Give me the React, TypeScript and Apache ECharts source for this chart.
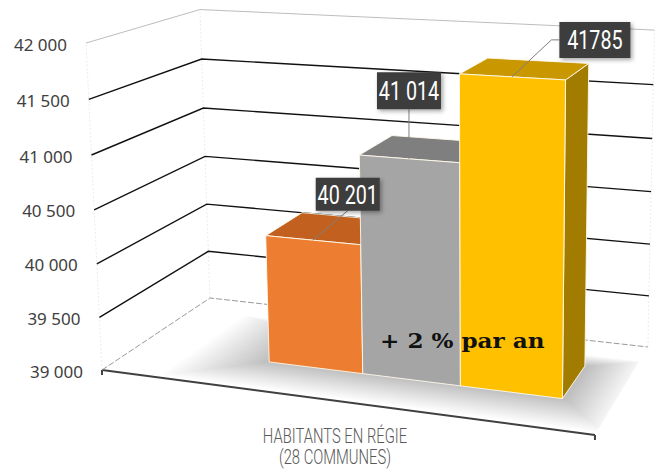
import React, { useEffect, useRef } from "react";
import * as echarts from "echarts";

// ---------- data ----------
const seriesNames = ["Série 1", "Série 2", "Série 3"];
const values = [40201, 41014, 41785];
const valueLabels = ["40 201", "41 014", "41785"];
const yTicks = [39000, 39500, 40000, 40500, 41000, 41500, 42000];
const yTickLabels = ["39 000", "39 500", "40 000", "40 500", "41 000", "41 500", "42 000"];
const axisTitleLines = ["HABITANTS EN RÉGIE", "(28 COMMUNES)"];
const noteText = "+ 2 % par an";

// ---------- layout / style ----------
const W = 658;
const H = 470;

// perspective camera: (X 0 left wall -> 1 right wall, Y 0 floor -> 1 top, Z 0 front -> 1 back wall)
const CAM = [
  [430.6, -19.4, 137.0, 102],
  [19.4, -328.7, -30.8, 370],
  [-0.1048, -0.04, 0.1383, 1],
];
function proj(X: number, Y: number, Z: number): number[] {
  const w = CAM[2][0] * X + CAM[2][1] * Y + CAM[2][2] * Z + CAM[2][3];
  return [
    (CAM[0][0] * X + CAM[0][1] * Y + CAM[0][2] * Z + CAM[0][3]) / w,
    (CAM[1][0] * X + CAM[1][1] * Y + CAM[1][2] * Z + CAM[1][3]) / w,
  ];
}
const BAR_X0 = 0.297;
const BAR_X1 = 0.903;
const BAR_Z0 = 0.31;
const BAR_Z1 = 0.69;

const FRONT = ["#ED7D31", "#A5A5A5", "#FFC000"];
const TOP = ["#C2601F", "#7F7F7F", "#C99700"];
const SIDE = ["#A24D12", "#6E6E6E", "#A17C00"];
const EDGE = "rgba(255,250,235,0.9)";

const CONDENSED = "Roboto, 'Noto Sans', sans-serif";

const LABEL_BOX = [
  { dx: 35, dy: -46, w: 64, h: 33, leader: "bottom" },
  { dx: 0, dy: -68, w: 64, h: 37, leader: "bottom" },
  { dx: 83, dy: -37, w: 71, h: 36, leader: "left" },
];

const clamp01 = (v: number) => Math.max(0, Math.min(1, v));

function yFrac(api: any, cs: any, v: number) {
  const p = api.coord([0, v]);
  return (cs.y + cs.height - p[1]) / cs.height;
}
function barGeom(params: any, api: any) {
  const cs = params.coordSys;
  const idx = api.value(0);
  const v = api.value(1);
  const c = api.coord([idx, v]);
  const bw = api.size([1, 0])[0];
  const u0 = (c[0] - bw / 2 - cs.x) / cs.width;
  const u1 = (c[0] + bw / 2 - cs.x) / cs.width;
  const xa = BAR_X0 + u0 * (BAR_X1 - BAR_X0);
  const xb = BAR_X0 + u1 * (BAR_X1 - BAR_X0);
  const yt = (cs.y + cs.height - c[1]) / cs.height;
  const yb = yFrac(api, cs, yTicks[0]);
  return { xa, xb, yt, yb, idx };
}

function frameRender(params: any, api: any) {
  const cs = params.coordSys;
  const y0 = yFrac(api, cs, api.value(1));
  const y1 = yFrac(api, cs, api.value(2));
  const children: any[] = [];
  // soft floor shadow under the bars
  const layers = 16;
  for (let k = 0; k < layers; k++) {
    const t = k / (layers - 1);
    const mxL = 0.01 + 0.16 * t;
    const mxR = 0.01 + 0.1 * t;
    const mzF = 0.01 + 0.27 * t;
    const mzB = 0.01 + 0.12 * t;
    const xl = clamp01(BAR_X0 - mxL);
    const xr = clamp01(BAR_X1 + mxR);
    const zf = clamp01(BAR_Z0 - mzF);
    const zb = clamp01(BAR_Z1 + mzB);
    children.push({
      type: "polygon",
      shape: { points: [proj(xl, y0, zf), proj(xr, y0, zf), proj(xr, y0, zb), proj(xl, y0, zb)] },
      style: { fill: "rgba(0,0,0,0.017)" },
    });
  }
  // faint wall verticals
  const verts = [
    [0, 0],
    [0, 1],
    [1, 1],
  ];
  verts.forEach(([x, z]) => {
    const a = proj(x, y0, z);
    const b = proj(x, y1, z);
    children.push({
      type: "line",
      shape: { x1: a[0], y1: a[1], x2: b[0], y2: b[1] },
      style: { stroke: "#ececec", lineWidth: 1, lineDash: [2, 2] },
    });
  });
  // front floor edge (category axis line)
  const fl = proj(0, y0, 0);
  const fr = proj(1, y0, 0);
  children.push({
    type: "line",
    shape: { x1: fl[0], y1: fl[1], x2: fr[0], y2: fr[1] },
    style: { stroke: "#404040", lineWidth: 2 },
  });
  [fl, fr].forEach((p) => {
    children.push({
      type: "line",
      shape: { x1: p[0], y1: p[1], x2: p[0], y2: p[1] + 5 },
      style: { stroke: "#404040", lineWidth: 2 },
    });
  });
  return { type: "group", children };
}

function gridRender(params: any, api: any) {
  const cs = params.coordSys;
  const i = params.dataIndex;
  const Y = yFrac(api, cs, api.value(1));
  const a = proj(0, Y, 0);
  const b = proj(0, Y, 1);
  const c = proj(1, Y, 1);
  const last = yTicks.length - 1;
  let stroke = "#111111";
  let lw = 1.4;
  let dash: any = null;
  if (i === 0) {
    stroke = "#9a9a9a";
    lw = 1;
    dash = [6, 2];
  } else if (i === last) {
    stroke = "#bdbdbd";
    lw = 1;
  }
  return {
    type: "group",
    children: [
      {
        type: "polyline",
        shape: { points: [a, b, c] },
        style: { stroke, lineWidth: lw, fill: "none", lineDash: dash },
      },
      {
        type: "text",
        x: a[0] - 19,
        y: a[1] + 1,
        style: {
          text: yTickLabels[i],
          align: "right",
          verticalAlign: "middle",
          fontSize: 17,
          fontFamily: "'Noto Sans', 'DejaVu Sans', sans-serif",
          fill: "#404040",
        },
      },
    ],
  };
}

function barRender(params: any, api: any) {
  const { xa, xb, yt, yb, idx } = barGeom(params, api);
  const z0 = BAR_Z0;
  const z1 = BAR_Z1;
  const side = [proj(xb, yb, z0), proj(xb, yb, z1), proj(xb, yt, z1), proj(xb, yt, z0)];
  const top = [proj(xa, yt, z0), proj(xb, yt, z0), proj(xb, yt, z1), proj(xa, yt, z1)];
  const front = [proj(xa, yb, z0), proj(xb, yb, z0), proj(xb, yt, z0), proj(xa, yt, z0)];
  return {
    type: "group",
    children: [
      { type: "polygon", shape: { points: side }, style: { fill: SIDE[idx], stroke: EDGE, lineWidth: 1 } },
      { type: "polygon", shape: { points: top }, style: { fill: TOP[idx], stroke: EDGE, lineWidth: 1 } },
      { type: "polygon", shape: { points: front }, style: { fill: FRONT[idx], stroke: EDGE, lineWidth: 1 } },
    ],
  };
}

function labelRender(params: any, api: any) {
  const { xa, xb, yt, idx } = barGeom(params, api);
  const anchor = proj((xa + xb) / 2, yt, BAR_Z0);
  const L = LABEL_BOX[idx];
  const cx = anchor[0] + L.dx;
  const cy = anchor[1] + L.dy;
  let leaderPts: number[][];
  if (L.leader === "left") {
    const bx = cx - L.w / 2;
    leaderPts = [anchor, [bx - 8, cy], [bx, cy]];
  } else {
    leaderPts = [anchor, [cx, cy + L.h / 2]];
  }
  return {
    type: "group",
    children: [
      {
        type: "polyline",
        shape: { points: leaderPts },
        style: { stroke: "#7f7f7f", lineWidth: 1, fill: "none" },
      },
      {
        type: "rect",
        shape: { x: cx - L.w / 2, y: cy - L.h / 2, width: L.w, height: L.h },
        style: {
          fill: "#3c3c3c",
          shadowBlur: 4,
          shadowOffsetX: 2,
          shadowOffsetY: 2,
          shadowColor: "rgba(0,0,0,0.35)",
        },
      },
      {
        type: "text",
        x: cx,
        y: cy + 1,
        scaleX: 0.76,
        style: {
          text: valueLabels[idx],
          align: "center",
          verticalAlign: "middle",
          fontSize: 26,
          fontFamily: CONDENSED,
          fill: "#ffffff",
        },
      },
    ],
  };
}

function buildOption(): any {
  return {
    animation: false,
    grid: { left: 0, right: 0, top: 0, bottom: 0 },
    xAxis: { type: "category", data: seriesNames, show: false },
    yAxis: { type: "value", min: 39000, max: 42000, interval: 500, show: false },
    series: [
      {
        type: "custom",
        z: 1,
        silent: true,
        encode: { x: 0, y: 1 },
        data: [[0, yTicks[0], yTicks[yTicks.length - 1]]],
        renderItem: frameRender,
      },
      {
        type: "custom",
        z: 2,
        silent: true,
        encode: { x: 0, y: 1 },
        data: yTicks.map((v) => [0, v]),
        renderItem: gridRender,
      },
      {
        type: "custom",
        name: "bars",
        z: 3,
        encode: { x: 0, y: 1 },
        data: values.map((v, i) => [i, v]),
        renderItem: barRender,
      },
      {
        type: "custom",
        z: 4,
        silent: true,
        encode: { x: 0, y: 1 },
        data: values.map((v, i) => [i, v]),
        renderItem: labelRender,
      },
    ],
    graphic: [
      {
        type: "text",
        x: 380,
        y: 340,
        z: 10,
        scaleX: 1.1,
        style: {
          text: noteText,
          align: "left",
          verticalAlign: "middle",
          fontSize: 21,
          fontWeight: "bold",
          fontFamily: "'DejaVu Serif', serif",
          fill: "#111111",
        },
      },
      {
        type: "text",
        x: 335,
        y: 436,
        z: 10,
        scaleX: 0.74,
        style: {
          text: axisTitleLines[0],
          align: "center",
          verticalAlign: "middle",
          fontSize: 20,
          fontWeight: 300,
          fontFamily: CONDENSED,
          fill: "#595959",
        },
      },
      {
        type: "text",
        x: 335,
        y: 457,
        z: 10,
        scaleX: 0.74,
        style: {
          text: axisTitleLines[1],
          align: "center",
          verticalAlign: "middle",
          fontSize: 20,
          fontWeight: 300,
          fontFamily: CONDENSED,
          fill: "#595959",
        },
      },
    ],
  };
}

export default function App() {
  const ref = useRef<HTMLDivElement>(null);
  useEffect(() => {
    document.body.style.margin = "0";
    const chart = echarts.init(ref.current as HTMLDivElement, null, { renderer: "svg" });
    chart.setOption(buildOption());
    return () => chart.dispose();
  }, []);
  return <div ref={ref} style={{ width: W, height: H }} />;
}
